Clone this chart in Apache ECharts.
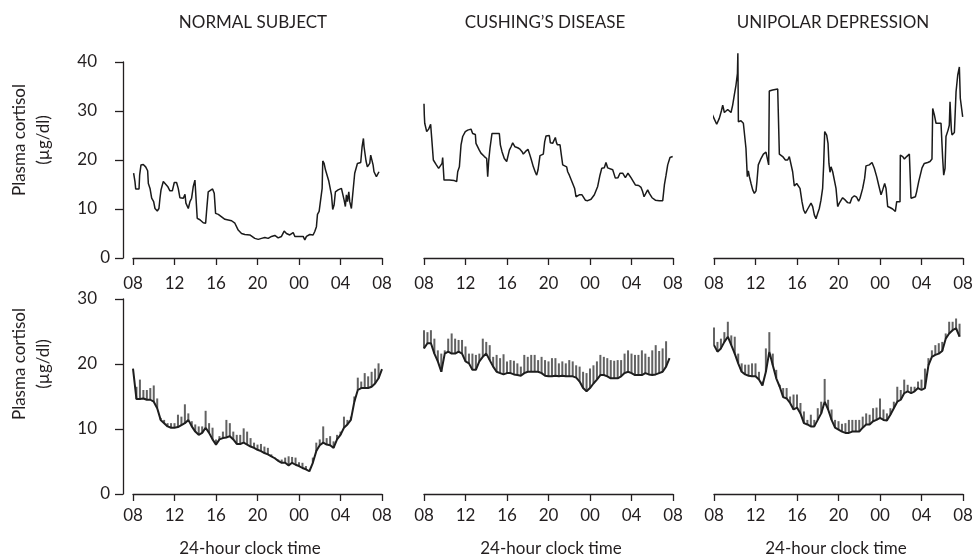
<!DOCTYPE html>
<html>
<head>
<meta charset="utf-8">
<title>Plasma cortisol over 24 hours</title>
<script src="https://cdn.jsdelivr.net/npm/echarts@6/dist/echarts.min.js"></script>
<style>
  html, body { margin: 0; padding: 0; background: #fff; }
  #chart { width: 973px; height: 559px; }
</style>
</head>
<body>
<div id="chart"></div>
<script>
// text
const panelTitles = ['NORMAL SUBJECT', 'CUSHING’S DISEASE', 'UNIPOLAR DEPRESSION']
const clockLabels = ['08', '12', '16', '20', '00', '04', '08'] // hours after 08:00 -> clock
const yAxisTitle = 'Plasma cortisol\n(µg/dl)'
const xAxisTitle = '24-hour clock time'

// top row: single subjects, [hours after 08:00, cortisol ug/dl]
const normalSubject = [
  [0.06, 17.3], [0.19, 15.6], [0.26, 14.1], [0.58, 14.1], [0.64, 16.9], [0.77, 19.0], [0.99, 19.1], [1.22, 18.6],
  [1.41, 17.8], [1.48, 15.2], [1.64, 14.2], [1.80, 12.2], [1.99, 11.5], [2.12, 10.1], [2.34, 9.6], [2.50, 10.1],
  [2.60, 12.2], [2.70, 13.9], [2.92, 15.6], [3.08, 15.2], [3.34, 14.6], [3.56, 13.7], [3.79, 13.7], [3.98, 15.4],
  [4.20, 15.4], [4.36, 14.2], [4.52, 12.3], [4.85, 12.2], [5.01, 13.0], [5.10, 11.2], [5.33, 10.1], [5.49, 11.5],
  [5.65, 12.2], [5.81, 14.6], [5.97, 15.9], [6.07, 15.9], [6.19, 8.1], [6.45, 7.8], [6.77, 7.2], [7.00, 7.1],
  [7.09, 9.5], [7.19, 9.6], [7.25, 13.5], [7.41, 13.9], [7.67, 14.1], [7.83, 13.2], [7.96, 9.1], [8.22, 8.9],
  [8.54, 8.4], [8.70, 8.0], [8.86, 7.9], [9.50, 7.6], [9.82, 7.1], [10.14, 5.7], [10.46, 5.0], [10.78, 4.8],
  [11.26, 4.7], [11.42, 4.4], [11.74, 4.0], [12.07, 3.8], [12.39, 4.0], [12.71, 4.2], [13.03, 4.0], [13.35, 4.4],
  [13.67, 4.6], [13.99, 4.1], [14.31, 4.4], [14.57, 5.5], [14.79, 5.0], [14.95, 5.2], [15.11, 4.7], [15.44, 5.2],
  [15.60, 4.4], [15.92, 4.4], [16.40, 4.4], [16.56, 3.7], [16.72, 4.4], [17.04, 4.8], [17.36, 4.7], [17.52, 5.4],
  [17.68, 6.4], [17.78, 8.9], [17.94, 9.5], [18.10, 9.8], [18.23, 14.2], [18.29, 19.8], [18.42, 19.3], [18.55, 18.0],
  [18.68, 17.8], [18.87, 15.7], [19.03, 15.6], [19.13, 12.9], [19.25, 9.9], [19.38, 10.8], [19.51, 13.5], [19.77, 13.9],
  [20.09, 14.2], [20.25, 14.1], [20.35, 11.8], [20.47, 10.5], [20.57, 12.9], [20.67, 11.5], [20.80, 13.5], [20.89, 11.5],
  [21.05, 10.1], [21.21, 10.5], [21.37, 17.3], [21.53, 17.5], [21.63, 19.3], [21.95, 19.5], [22.08, 22.7], [22.21, 24.4],
  [22.27, 22.7], [22.40, 22.4], [22.46, 19.8], [22.59, 18.6], [22.72, 18.3], [22.82, 19.3], [22.91, 21.0], [23.04, 21.4],
  [23.14, 19.0], [23.23, 17.6], [23.46, 16.6], [23.62, 16.3], [23.71, 17.6]
]
const cushingSubject = [
  [0.00, 31.5], [0.03, 29.2], [0.07, 27.5], [0.26, 25.8], [0.45, 26.3], [0.64, 27.3], [0.77, 23.7], [0.90, 20.0],
  [1.03, 19.7], [1.16, 19.1], [1.29, 19.0], [1.41, 18.3], [1.54, 18.6], [1.74, 19.3], [1.80, 20.5], [1.93, 15.9],
  [2.44, 15.9], [2.92, 15.8], [3.15, 15.6], [3.25, 17.6], [3.41, 18.6], [3.57, 23.1], [3.73, 24.8], [3.98, 25.8],
  [4.21, 26.1], [4.53, 26.3], [4.69, 25.4], [4.95, 25.2], [5.01, 23.4], [5.17, 23.1], [5.33, 22.0], [5.49, 21.4],
  [5.65, 21.3], [5.82, 20.7], [6.04, 20.3], [6.14, 16.6], [6.23, 19.7], [6.36, 22.4], [6.55, 25.4], [7.26, 25.4],
  [7.36, 23.1], [7.52, 21.7], [7.74, 20.3], [7.97, 19.7], [8.16, 19.3], [8.23, 22.0], [8.39, 22.7], [8.55, 23.5],
  [8.71, 23.4], [8.77, 22.7], [9.03, 22.5], [9.25, 22.2], [9.45, 21.7], [9.57, 21.2], [9.77, 21.7], [9.90, 22.0],
  [10.02, 22.2], [10.15, 21.4], [10.31, 20.3], [10.54, 18.6], [10.73, 17.5], [10.86, 16.9], [10.99, 18.0], [11.12, 18.0],
  [11.18, 20.9], [11.37, 21.2], [11.50, 21.2], [11.63, 23.7], [11.76, 24.9], [11.95, 25.1], [12.08, 25.0], [12.18, 23.5],
  [12.40, 23.4], [12.59, 23.6], [12.66, 24.6], [12.76, 23.6], [12.85, 23.1], [12.98, 23.2], [13.11, 23.1], [13.24, 21.0],
  [13.37, 19.0], [13.56, 18.8], [13.75, 18.6], [13.85, 17.6], [14.01, 16.9], [14.33, 15.2], [14.52, 14.2], [14.65, 12.5],
  [14.81, 12.5], [14.97, 12.9], [15.23, 12.9], [15.36, 12.5], [15.55, 11.8], [15.78, 11.7], [16.10, 12.0], [16.42, 12.9],
  [16.74, 14.6], [16.96, 16.9], [17.13, 18.3], [17.38, 18.4], [17.54, 19.5], [17.70, 18.4], [17.86, 18.2], [18.19, 18.0],
  [18.35, 18.0], [18.44, 16.3], [18.57, 16.1], [18.70, 16.4], [18.89, 17.3], [19.15, 17.3], [19.31, 17.1], [19.41, 16.4],
  [19.53, 16.8], [19.66, 17.3], [19.79, 17.5], [19.95, 16.4], [20.18, 15.6], [20.37, 14.9], [20.69, 14.8], [20.92, 14.4],
  [21.08, 13.5], [21.21, 12.5], [21.40, 12.9], [21.56, 13.9], [21.72, 13.2], [21.98, 12.3], [22.30, 11.8], [22.68, 11.7],
  [23.01, 11.7], [23.17, 14.9], [23.33, 16.9], [23.49, 19.0], [23.71, 20.5], [23.97, 20.7]
]
const unipolarSubject = [
  [-0.26, 29.7], [0.00, 28.5], [0.26, 27.3], [0.51, 28.5], [0.71, 30.0], [0.84, 31.2], [1.00, 29.7], [1.16, 29.9],
  [1.32, 30.3], [1.48, 29.9], [1.64, 29.7], [1.80, 31.2], [1.96, 33.3], [2.12, 35.3], [2.26, 37.7], [2.30, 41.8],
  [2.35, 27.8], [2.44, 28.2], [2.60, 28.0], [2.83, 27.5], [3.02, 27.5], [3.08, 22.4], [3.21, 16.6], [3.31, 17.8],
  [3.41, 16.6], [3.57, 15.2], [3.73, 13.9], [3.89, 13.2], [4.05, 13.7], [4.14, 15.6], [4.27, 19.0], [4.53, 20.3],
  [4.76, 21.2], [5.01, 21.6], [5.17, 21.2], [5.27, 19.0], [5.33, 34.1], [5.65, 34.3], [6.14, 34.5], [6.30, 21.2],
  [6.62, 20.7], [6.88, 20.0], [7.10, 20.0], [7.26, 20.7], [7.42, 20.9], [7.58, 17.6], [7.74, 14.7], [7.97, 15.2],
  [8.16, 15.2], [8.29, 14.2], [8.48, 11.5], [8.64, 9.8], [8.80, 9.1], [9.03, 10.0], [9.35, 11.2], [9.51, 10.5],
  [9.67, 8.8], [9.83, 8.0], [9.99, 9.1], [10.15, 10.1], [10.31, 11.8], [10.47, 14.2], [10.57, 19.0], [10.67, 25.8],
  [10.86, 25.1], [10.99, 23.4], [11.08, 19.3], [11.18, 17.5], [11.28, 18.6], [11.44, 17.6], [11.60, 17.6], [11.76, 14.2],
  [11.92, 10.5], [12.08, 11.2], [12.40, 12.3], [12.66, 11.8], [12.88, 11.3], [13.11, 11.2], [13.30, 12.3], [13.53, 12.7],
  [13.75, 12.4], [13.94, 11.6], [14.07, 12.2], [14.33, 14.2], [14.52, 16.3], [14.65, 18.8], [14.97, 19.0], [15.23, 19.5],
  [15.45, 18.3], [15.68, 16.6], [15.87, 14.9], [16.10, 12.9], [16.26, 13.9], [16.45, 15.2], [16.58, 14.2], [16.74, 10.5],
  [16.96, 10.3], [17.22, 10.0], [17.48, 9.5], [17.61, 11.5], [17.80, 11.7], [17.93, 11.5], [17.96, 21.0], [18.19, 20.7],
  [18.35, 20.2], [18.57, 20.7], [18.83, 21.2], [18.96, 21.4], [18.99, 12.2], [19.15, 12.0], [19.41, 12.5], [19.53, 13.5],
  [19.73, 15.6], [19.86, 15.7], [20.05, 18.4], [20.27, 19.3], [20.60, 19.5], [20.82, 19.7], [21.01, 20.2], [21.08, 30.5],
  [21.24, 29.2], [21.40, 27.5], [21.88, 27.5], [22.04, 20.3], [22.14, 16.9], [22.27, 18.3], [22.36, 24.8], [22.56, 26.1],
  [22.68, 27.1], [22.75, 31.9], [22.88, 26.1], [22.94, 25.1], [23.17, 25.6], [23.33, 33.9], [23.49, 37.3], [23.65, 39.0],
  [23.74, 32.6], [23.97, 28.8]
]

// bottom row: group means sampled every 20 min from 08:00, and top of each error bar
const SAMPLE_HOURS = 1 / 3
const normalMean = [
  19.3, 14.6, 14.6, 14.7, 14.5, 14.5, 14.2, 13.2, 11.4, 10.9, 10.4, 10.2, 10.2, 10.3, 10.6, 10.9, 11.4, 10.4,
  9.6, 9.1, 9.4, 10.2, 9.4, 8.4, 7.6, 8.4, 8.6, 8.7, 8.9, 8.4, 7.7, 7.7, 7.9, 7.6, 7.3, 7.1, 6.8, 6.6,
  6.3, 6.1, 5.8, 5.5, 5.1, 4.8, 4.8, 4.4, 4.8, 4.5, 4.3, 4.0, 3.8, 3.5, 4.8, 6.6, 7.5, 7.9, 7.6, 7.5,
  7.1, 8.4, 9.1, 10.2, 10.7, 11.4, 14.2, 16.0, 16.3, 16.3, 16.3, 16.5, 17.0, 17.8, 19.2
]
const normalUpper = [
  19.3, 16.5, 17.6, 16.0, 16.0, 16.3, 16.7, 14.7, 11.7, 11.4, 10.9, 10.9, 10.9, 12.2, 11.9, 13.8, 12.4, 11.2,
  10.7, 10.4, 10.4, 12.8, 10.9, 10.2, 8.4, 8.9, 9.6, 11.4, 10.9, 9.6, 9.1, 9.1, 10.1, 9.6, 8.6, 7.9, 7.6, 7.7,
  7.3, 7.1, 6.1, 5.6, 5.3, 5.3, 5.6, 5.8, 5.7, 5.6, 4.9, 4.8, 4.3, 3.5, 5.6, 7.9, 8.4, 10.4, 8.6, 8.9,
  8.1, 9.1, 9.6, 11.9, 11.4, 11.9, 15.0, 17.9, 17.3, 18.6, 18.1, 18.8, 19.3, 20.1, 19.2
]
const cushingMean = [
  22.4, 23.2, 23.2, 21.6, 20.4, 18.8, 21.6, 21.9, 21.6, 21.6, 21.9, 21.6, 20.4, 20.1, 19.1, 19.1, 20.4, 21.1,
  21.6, 20.6, 19.6, 18.8, 18.6, 18.4, 18.6, 18.6, 18.4, 18.3, 18.2, 18.6, 18.8, 18.8, 18.8, 18.8, 18.6, 18.2,
  18.1, 18.1, 18.2, 18.1, 18.2, 18.1, 18.1, 18.1, 17.9, 17.3, 16.3, 15.8, 16.3, 17.0, 17.6, 18.3, 18.3, 18.1,
  17.8, 17.8, 17.8, 18.1, 18.6, 18.8, 18.6, 18.3, 18.3, 18.3, 18.6, 18.4, 18.3, 18.4, 18.6, 18.8, 19.6, 20.9
]
const cushingUpper = [
  25.2, 24.9, 25.2, 23.9, 22.1, 21.6, 22.1, 23.9, 24.7, 23.9, 23.7, 23.7, 22.7, 21.6, 21.6, 21.4, 21.6, 23.9,
  23.4, 22.9, 21.1, 21.4, 20.9, 21.5, 20.4, 20.6, 20.5, 20.1, 19.6, 21.4, 21.1, 21.4, 21.4, 20.6, 21.1, 20.6,
  20.4, 20.9, 20.9, 20.1, 20.4, 20.1, 20.6, 20.4, 19.8, 19.6, 18.8, 18.6, 19.3, 19.8, 20.4, 21.4, 21.1, 20.9,
  20.6, 20.5, 20.6, 20.6, 21.6, 22.1, 21.6, 21.4, 21.4, 22.1, 21.6, 21.1, 22.1, 22.9, 22.0, 22.4, 23.5, 20.9
]
const unipolarMean = [
  22.9, 21.9, 22.4, 23.4, 24.2, 22.9, 21.6, 20.1, 18.8, 18.4, 18.2, 18.1, 18.1, 17.6, 16.7, 18.8, 21.9, 19.8,
  17.8, 16.5, 14.9, 14.7, 14.0, 13.0, 13.3, 12.4, 10.9, 10.7, 10.4, 10.4, 11.4, 12.4, 14.2, 13.0, 11.4, 10.2,
  9.9, 9.6, 9.4, 9.4, 9.6, 9.6, 9.6, 10.2, 10.7, 10.7, 11.2, 11.4, 11.7, 11.4, 11.3, 12.2, 13.2, 14.2,
  14.5, 15.5, 15.8, 15.5, 15.8, 16.3, 16.0, 16.3, 19.8, 21.1, 21.4, 21.6, 22.0, 23.9, 24.7, 25.2, 25.5, 24.2
]
const unipolarUpper = [
  25.6, 23.4, 23.9, 24.9, 26.5, 24.4, 24.2, 21.6, 20.1, 19.9, 19.9, 20.1, 20.1, 18.8, 17.3, 22.4, 24.9, 21.6,
  19.1, 16.8, 16.3, 16.3, 15.0, 15.3, 15.3, 14.0, 12.7, 11.4, 12.2, 11.4, 13.2, 14.2, 17.7, 14.5, 13.0, 11.4,
  11.2, 10.8, 10.9, 11.4, 11.4, 11.4, 11.4, 11.9, 12.4, 12.2, 13.2, 13.3, 14.7, 13.0, 12.4, 13.2, 14.2, 16.5,
  16.0, 17.6, 16.8, 16.5, 16.5, 17.3, 17.6, 19.3, 20.9, 22.1, 22.9, 23.2, 23.4, 24.7, 26.5, 26.5, 27.0, 26.2
]

const FONT = 'Lato, "Noto Sans", sans-serif'
const INK = '#231f20'

const chart = echarts.init(document.getElementById('chart'))

const colLeft = [133, 424, 714]
const titleCenter = [253, 545, 833]
const xNameCenter = [250, 551, 836]
const singles = [normalSubject, cushingSubject, unipolarSubject]
const means = [normalMean, cushingMean, unipolarMean]
const uppers = [normalUpper, cushingUpper, unipolarUpper]

function yLabel(v) {
  // the zero sits closer to the axis than the other labels
  return v === 0 ? '{z|0}' : '{n|' + v + '}'
}

function renderBar(params, api) {
  const base = api.coord([api.value(0), api.value(1)])
  const top = api.coord([api.value(0), api.value(2)])
  return {
    type: 'line',
    shape: { x1: base[0], y1: base[1], x2: top[0], y2: top[1] },
    style: { stroke: '#626262', lineWidth: 2 }
  }
}

const grid = []
const xAxis = []
const yAxis = []
const series = []

for (let row = 0; row < 2; row++) {
  for (let col = 0; col < 3; col++) {
    grid.push({
      left: colLeft[col],
      top: row === 0 ? 62 : 299,
      width: 249,
      height: row === 0 ? 196 : 195,
      outerBoundsMode: 'none'
    })
    const i = row * 3 + col
    xAxis.push({
      type: 'value',
      gridIndex: i,
      min: 0,
      max: 24,
      interval: 4,
      axisLine: { lineStyle: { color: INK, width: 1.3 } },
      axisTick: { length: 7, lineStyle: { color: INK, width: 1.3 } },
      axisLabel: {
        margin: row === 0 ? 17 : 13,
        fontFamily: FONT,
        fontSize: 17,
        color: INK,
        formatter: v => clockLabels[Math.round(v / 4)]
      },
      splitLine: { show: false }
    })
    yAxis.push({
      type: 'value',
      gridIndex: i,
      show: col === 0,
      min: 0,
      max: row === 0 ? 40 : 30,
      interval: 10,
      offset: 10,
      axisLine: { show: true, onZero: false, lineStyle: { color: INK, width: 1.3 } },
      axisTick: { show: true, length: 8, lineStyle: { color: INK, width: 1.3 } },
      axisLabel: {
        margin: 13,
        formatter: yLabel,
        rich: {
          n: { fontFamily: FONT, fontSize: 17, color: INK, padding: [0, 13, 0, 0] },
          z: { fontFamily: FONT, fontSize: 17, color: INK }
        }
      },
      splitLine: { show: false }
    })

    if (row === 0) {
      series.push({
        type: 'line',
        xAxisIndex: i,
        yAxisIndex: i,
        data: singles[col],
        showSymbol: false,
        clip: false,
        lineStyle: { color: '#1a1a1a', width: 1.5 }
      })
    } else {
      const m = means[col]
      const u = uppers[col]
      series.push({
        type: 'custom',
        xAxisIndex: i,
        yAxisIndex: i,
        renderItem: renderBar,
        data: m.map((v, k) => [k * SAMPLE_HOURS, v, u[k]])
      })
      series.push({
        type: 'line',
        xAxisIndex: i,
        yAxisIndex: i,
        data: m.map((v, k) => [k * SAMPLE_HOURS, v]),
        showSymbol: false,
        lineStyle: { color: '#1e1e1e', width: 2 }
      })
    }
  }
}

const graphic = []
;[140, 364].forEach(cy => {
  graphic.push({
    type: 'text',
    x: 32,
    y: cy,
    rotation: Math.PI / 2,
    style: {
      text: yAxisTitle,
      font: '17px ' + FONT,
      fill: INK,
      lineHeight: 24,
      align: 'center',
      verticalAlign: 'middle',
      textAlign: 'center',
      textVerticalAlign: 'middle'
    }
  })
})
xNameCenter.forEach(cx => {
  graphic.push({
    type: 'text',
    x: cx,
    y: 549,
    style: {
      text: xAxisTitle,
      font: '17px ' + FONT,
      fill: INK,
      align: 'center',
      verticalAlign: 'middle',
      textAlign: 'center',
      textVerticalAlign: 'middle'
    }
  })
})

chart.setOption({
  animation: false,
  backgroundColor: '#fff',
  title: panelTitles.map((t, k) => ({
    text: t,
    left: titleCenter[k],
    top: 14,
    padding: 0,
    textAlign: 'center',
    textStyle: { fontFamily: FONT, fontSize: 17, fontWeight: 'normal', color: INK }
  })),
  grid: grid,
  xAxis: xAxis,
  yAxis: yAxis,
  series: series,
  graphic: graphic
})
</script>
</body>
</html>
